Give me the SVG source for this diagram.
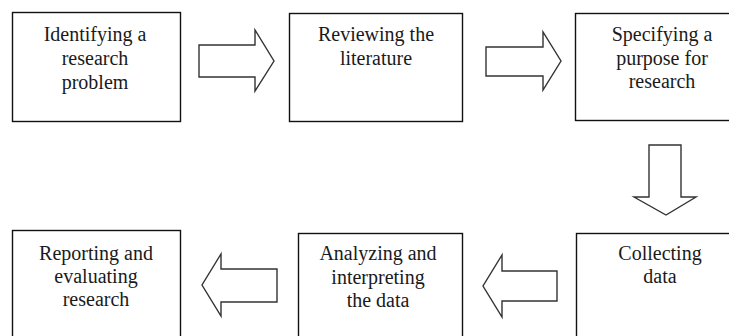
<svg xmlns="http://www.w3.org/2000/svg" width="729" height="336" viewBox="0 0 729 336">
<style>
.box{fill:#fff;stroke:#111;stroke-width:1.4}
.arr{fill:#fff;stroke:#333;stroke-width:1.4;stroke-linejoin:miter}
text{font-family:'Liberation Serif',Tinos,'Times New Roman',Times,'DejaVu Serif',serif;font-size:20px;fill:#1a1a1a;text-anchor:middle}
</style>
<rect width="729" height="336" fill="#fff"/>
<g id="n1"><rect class="box" x="12.5" y="12.5" width="168" height="109"/>
<text x="95" y="41">Identifying a</text><text x="95" y="65">research</text><text x="95" y="89">problem</text></g>
<g id="n2"><rect class="box" x="289.5" y="13.5" width="173" height="108"/>
<text x="376" y="41">Reviewing the</text><text x="376" y="65">literature</text></g>
<g id="n3"><rect class="box" x="575.5" y="13.5" width="180" height="107"/>
<text x="662" y="41">Specifying a</text><text x="662" y="65">purpose for</text><text x="662" y="88">research</text></g>
<g id="n4"><rect class="box" x="12.5" y="230.5" width="168" height="120"/>
<text x="96" y="260">Reporting and</text><text x="96" y="283">evaluating</text><text x="96" y="306">research</text></g>
<g id="n5"><rect class="box" x="298.5" y="233.5" width="164" height="120"/>
<text x="378" y="260">Analyzing and</text><text x="378" y="284">interpreting</text><text x="378" y="307">the data</text></g>
<g id="n6"><rect class="box" x="576.5" y="233.5" width="180" height="120"/>
<text x="660" y="260">Collecting</text><text x="660" y="283">data</text></g>
<g id="connectors">
<polygon class="arr" points="199,45 255,45 255,30 274,61 255,91 255,77 199,77"/>
<polygon class="arr" points="486,47 543,47 543,32 561,61 543,90 543,76 486,76"/>
<polygon class="arr" points="649,145 681,145 681,197 696,197 666,215 634,197 649,197"/>
<polygon class="arr" points="277,269 221,269 221,254 202,285 221,316 221,302 277,302"/>
<polygon class="arr" points="557,271 502,271 502,255 483,286 502,317 502,301 557,301"/>
</g>
</svg>
